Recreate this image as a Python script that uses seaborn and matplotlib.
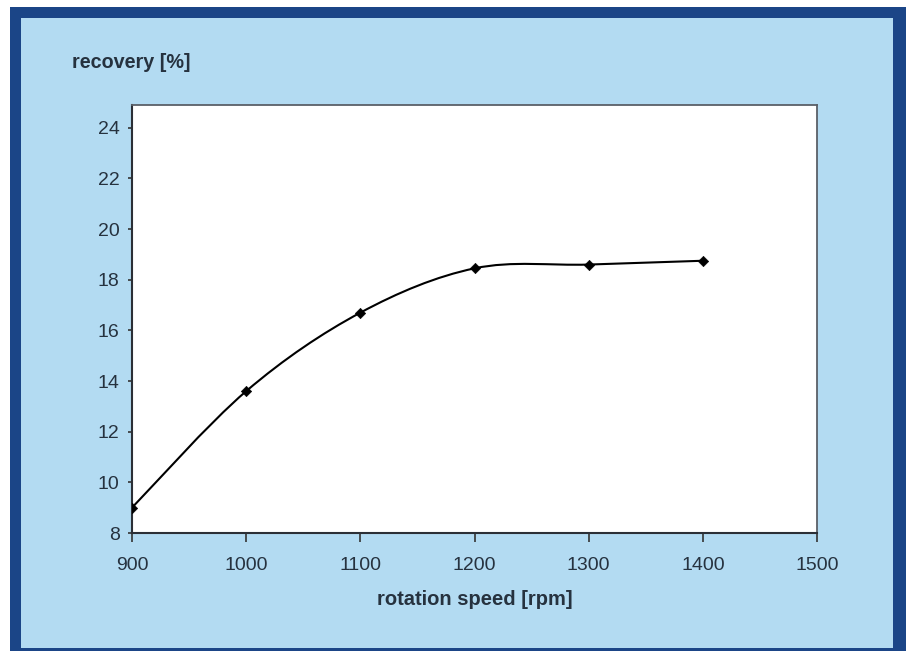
import matplotlib
matplotlib.use("Agg")
import matplotlib.pyplot as plt
from matplotlib.patches import Rectangle, PathPatch
from matplotlib.path import Path
import seaborn as sns
import pandas as pd

# values
speed = [900, 1000, 1100, 1200, 1300, 1400]
recovery = [9.0, 13.6, 16.7, 18.45, 18.6, 18.75]
x_ticks = [900, 1000, 1100, 1200, 1300, 1400, 1500]
y_ticks = [8, 10, 12, 14, 16, 18, 20, 22, 24]

df = pd.DataFrame({"speed": speed, "recovery": recovery})

sns.set_style("white")
plt.rcParams["font.family"] = ["Liberation Sans", "DejaVu Sans"]

dark_blue = "#1b4587"
light_blue = "#b3dbf2"
text_col = "#26323f"

fig = plt.figure(figsize=(9.06, 6.51), dpi=100)
fig.patch.set_facecolor("white")
# dark frame and light blue panel, kept behind the axes
fig.patches.append(Rectangle((10 / 906, 0), 1 - 10 / 906, 1 - 7 / 651,
                             transform=fig.transFigure, facecolor=dark_blue,
                             edgecolor="none", zorder=-2))
fig.patches.append(Rectangle((21 / 906, 3 / 651), (893 - 21) / 906, (651 - 3 - 18) / 651,
                             transform=fig.transFigure, facecolor=light_blue,
                             edgecolor="none", zorder=-1))

ax = fig.add_axes([132 / 906, 118 / 651, 685 / 906, 428 / 651])
ax.set_zorder(1)
ax.set_facecolor("white")

# smoothed connecting line (Excel style), bezier through the data points
pts = list(zip(speed, recovery))
verts = [pts[0]]
codes = [Path.MOVETO]
for i in range(len(pts) - 1):
    p0 = pts[max(i - 1, 0)]
    p1 = pts[i]
    p2 = pts[i + 1]
    p3 = pts[min(i + 2, len(pts) - 1)]
    c1 = (p1[0] + (p2[0] - p0[0]) / 6, p1[1] + (p2[1] - p0[1]) / 6)
    c2 = (p2[0] - (p3[0] - p1[0]) / 6, p2[1] - (p3[1] - p1[1]) / 6)
    verts += [c1, c2, p2]
    codes += [Path.CURVE4] * 3
ax.add_patch(PathPatch(Path(verts, codes), facecolor="none",
                       edgecolor="black", linewidth=1.5, zorder=2))

sns.scatterplot(data=df, x="speed", y="recovery", ax=ax, color="black",
                marker="D", s=28, edgecolor="black", zorder=3)

ax.set_xlim(900, 1500)
ax.set_ylim(8, 24.9)
ax.set_xticks(x_ticks)
ax.set_yticks(y_ticks)
ax.tick_params(axis="x", direction="out", length=6.5, width=1.2, color="#333333",
               labelsize=14, labelcolor=text_col, pad=11, bottom=True)
ax.tick_params(axis="y", direction="out", length=3, width=1.2, color="#333333",
               labelsize=14, labelcolor=text_col, pad=6, left=True)

for side in ["left", "bottom"]:
    ax.spines[side].set_color("#2b2f36")
    ax.spines[side].set_linewidth(1.5)
for side in ["top", "right"]:
    ax.spines[side].set_color("#5a6068")
    ax.spines[side].set_linewidth(1.3)

ax.set_xlabel("rotation speed [rpm]", fontsize=14.5, fontweight="bold",
              color=text_col)
ax.xaxis.set_label_coords(0.5, (533 - 590) / 428)
ax.set_ylabel("")
fig.text(72 / 906, 1 - 62 / 651, "recovery [%]", fontsize=14.2,
         fontweight="bold", color=text_col, ha="left", va="center")

fig.savefig("out.png", dpi=100, facecolor=fig.get_facecolor())
